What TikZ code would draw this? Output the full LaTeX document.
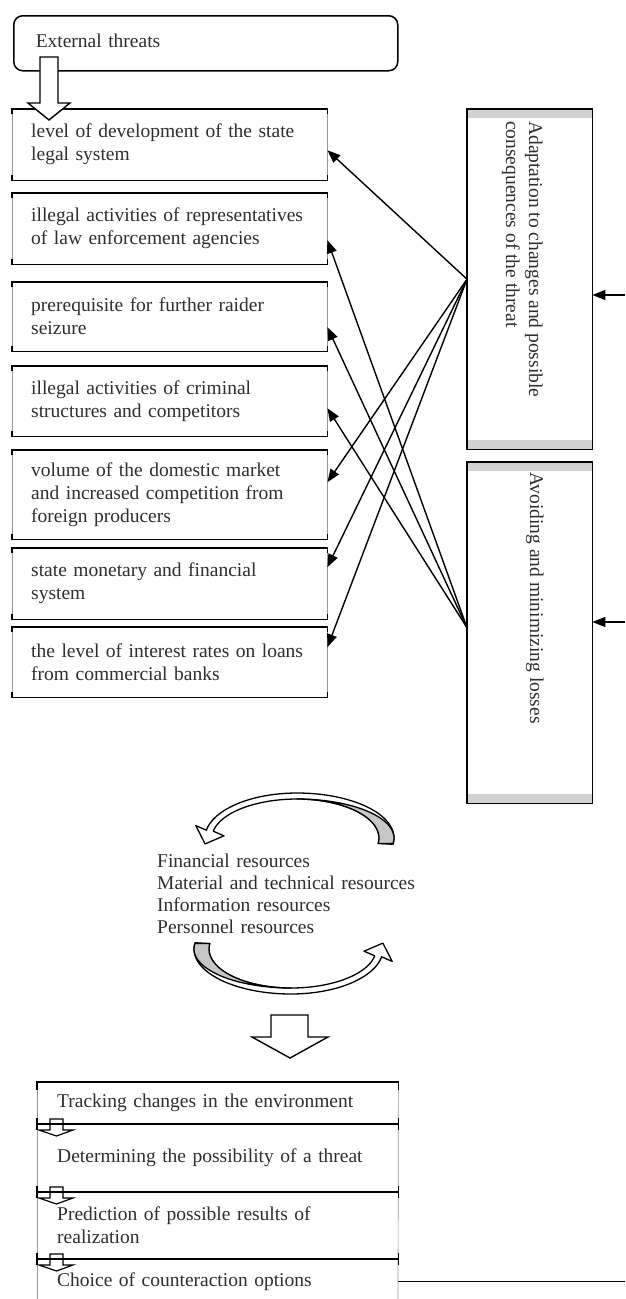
\documentclass[tikz,border=0pt]{standalone}
\usepackage{fontspec}
\setmainfont{Liberation Serif}
\usetikzlibrary{arrows.meta}
\definecolor{txt}{gray}{0.18}
\newcommand{\cycarrow}{%
  \filldraw[fill=white, line width=1.3pt, line join=round]
    plot[domain=-8:90, samples=30, smooth, variable=\t] ({297+97*cos(\t)},{838-45*sin(\t)})
    -- plot[domain=90:170, samples=30, smooth, variable=\t] ({297+92*cos(\t)},{838-45*sin(\t)})
    -- (195.8,825.6) -- (205.1,843.9) -- (224,835.8)
    -- plot[domain=170:90, samples=30, smooth, variable=\t] ({297+85*cos(\t)},{838-39*sin(\t)})
    -- plot[domain=90:-8, samples=30, smooth, variable=\t] ({297+82*cos(\t)},{838-39*sin(\t)})
    -- cycle;
  \filldraw[fill=gray!45, line width=1.3pt, line join=round]
    plot[domain=-8:90, samples=30, smooth, variable=\t] ({297+97*cos(\t)},{838-39*sin(\t)})
    -- plot[domain=90:-8, samples=30, smooth, variable=\t] ({297+82*cos(\t)},{838-39*sin(\t)})
    -- cycle;
}
\begin{document}
\begin{tikzpicture}[x=1pt, y=-1pt,
  every node/.style={font=\fontsize{19.5}{23}\selectfont, text=txt},
  lbox/.style={anchor=north west, minimum width=315pt, text width=277pt, inner xsep=19pt, inner ysep=0pt, align=left},
  sbox/.style={anchor=north west, minimum width=361pt, text width=321pt, inner xsep=20pt, inner ysep=0pt, align=left},
  rbox/.style={anchor=north west, minimum width=125pt, minimum height=340pt, inner sep=0pt},
  arr/.style={line width=1.4pt, -{Triangle[length=13pt,width=10pt]}},
  edge thick/.style={line width=1.6pt},
  edge thin/.style={line width=0.7pt, draw=gray!80},
  block/.style={line width=1.4pt, fill=white, line join=miter}
]
\useasboundingbox (0,0) rectangle (625,1299);

% external threats
\node[anchor=north west, draw, rounded corners=9pt, line width=1.5pt, minimum width=384pt, minimum height=55pt,
      text width=340pt, inner xsep=22pt, inner ysep=0pt, align=left, text depth=6pt] (ext) at (13,15) {External threats};

% left boxes
\node[lbox, minimum height=71pt] (b1) at (12,109) {level of development of the state\\legal system};
\node[lbox, minimum height=71pt] (b2) at (12,193) {illegal activities of representatives\\of law enforcement agencies};
\node[lbox, minimum height=69pt] (b3) at (12,282) {prerequisite for further raider\\seizure};
\node[lbox, minimum height=70pt] (b4) at (12,366) {illegal activities of criminal\\structures and competitors};
\node[lbox, minimum height=89pt] (b5) at (12,450) {volume of the domestic market\\and increased competition from\\foreign producers};
\node[lbox, minimum height=71pt] (b6) at (12,548) {state monetary and financial\\system};
\node[lbox, minimum height=70pt] (b7) at (12,627) {the level of interest rates on loans\\from commercial banks};
\foreach \n in {b1,b2,b3,b4,b5,b6,b7}{
  \draw[edge thin] (\n.north west) rectangle (\n.south east);
  \draw[edge thick] ([yshift=-5pt]\n.north west) -- (\n.north west) -- (\n.north east) -- ([yshift=-5pt]\n.north east);
  \draw[edge thick] ([yshift=5pt]\n.south west) -- (\n.south west) -- (\n.south east) -- ([yshift=5pt]\n.south east);
}

% block arrow from external threats
\draw[block] (40,57) -- (58,57) -- (58,103) -- (70,103) -- (49,120) -- (28,103) -- (40,103) -- cycle;

% right boxes
\node[rbox] (A) at (467,109) {};
\node[rbox, minimum height=341pt] (B) at (467,462) {};
\foreach \n in {A,B}{
  \fill[gray!35] (\n.north west) rectangle ([yshift=-9pt]\n.north east);
  \fill[gray!35] ([yshift=9pt]\n.south west) rectangle (\n.south east);
  \draw[line width=1.4pt] (\n.north west) rectangle (\n.south east);
}
\node[rotate=-90, anchor=base west, inner sep=0pt] (At) at (529,121)
  {\parbox[t]{320pt}{Adaptation to changes and possible\\consequences of the threat}};
\node[rotate=-90, anchor=base west, inner sep=0pt] (Bt) at (530,472) {Avoiding and minimizing losses};

\coordinate (inA) at (625,295);
\coordinate (inB) at (625,622);
\draw[arr] (inA) -- (A.east |- inA);
\draw[arr] (inB) -- (B.east |- inB);

% crossing arrows
\coordinate (sA) at (A.west);
\coordinate (sB) at ([yshift=5pt]B.west);
\draw[arr] (sA) -- ([yshift=-5.5pt]b1.east);
\draw[arr] (sB) -- ([yshift=-11.5pt]b2.east);
\draw[arr] (sB) -- ([yshift=-10.5pt]b3.east);
\draw[arr] (sB) -- ([yshift=-7pt]b4.east);
\draw[arr] (sA) -- ([yshift=12.5pt]b5.east);
\draw[arr] (sA) -- ([yshift=16.5pt]b6.east);
\draw[arr] (sA) -- ([yshift=15pt]b7.east);

% cyclic arrows
\cycarrow
\begin{scope}[rotate around={180:(294,893.5)}]
\cycarrow
\end{scope}

\node[anchor=base west, inner sep=0pt, text width=280pt, align=left, font=\fontsize{19.5}{22}\selectfont] (res) at (157,867)
  {Financial resources\\Material and technical resources\\Information resources\\Personnel resources};

% big down arrow
\draw[block] (271,1015) -- (308,1015) -- (308,1037) -- (328,1037) -- (290,1058) -- (252,1037) -- (271,1037) -- cycle;

% bottom process box
\node[sbox, minimum height=42pt] (s1) at (37,1082) {Tracking changes in the environment};
\node[sbox, minimum height=68pt] (s2) at (37,1124) {Determining the possibility of a threat};
\node[sbox, minimum height=67pt] (s3) at (37,1192) {Prediction of possible results of\\realization};
\node[sbox, minimum height=44pt] (s4) at (37,1259) {Choice of counteraction options};
\coordinate (bl) at (37,1299);
\coordinate (br) at (398,1299);
\draw[edge thin] (s1.north west) -- (bl);
\draw[edge thin] (s1.north east) -- (br);
\draw[edge thick] ([yshift=-8pt]s1.north west) -- (s1.north west) -- (s1.north east) -- ([yshift=-8pt]s1.north east);
\foreach \n in {s2,s3,s4}{
  \draw[line width=1.2pt, fill=white] ([xshift=13pt,yshift=5pt]\n.north west) -- ++(13,0) -- ++(0,11) -- ++(10,0) -- ++(-16.5,6) -- ++(-17.5,-6) -- ++(11,0) -- cycle;
  \draw[edge thick] (\n.north west) -- (\n.north east);
  \draw[line width=1.4pt] ([yshift=6pt]\n.north west) -- ([yshift=-6pt]\n.north west);
  \draw[line width=1.4pt] ([yshift=6pt]\n.north east) -- ([yshift=-6pt]\n.north east);
}
\coordinate (outR) at (625,1281);
\draw[line width=1.4pt] (s4.east) -- (s4.east -| outR);
\end{tikzpicture}
\end{document}
